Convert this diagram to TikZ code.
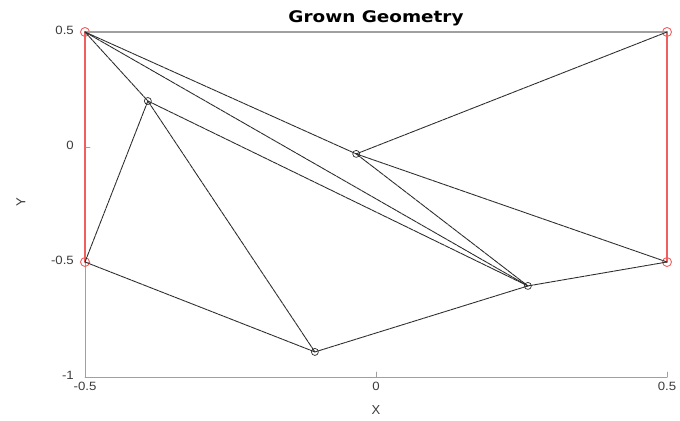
\documentclass[tikz,border=0pt]{standalone}
\usepackage{fontspec}
\setmainfont{Liberation Sans}
\newfontfamily\titlefont{DejaVu Sans}
\definecolor{PlotRed}{RGB}{240,95,95}
\definecolor{PlotGray}{RGB}{160,160,160}
\definecolor{PlotEdge}{RGB}{45,45,45}
\definecolor{PlotText}{RGB}{60,60,60}

\begin{document}
\begin{tikzpicture}[x=1bp,y=1bp,line cap=round,line join=round]
  \path[use as bounding box] (0,0) rectangle (680,420);
  \fill[white] (0,0) rectangle (680,420);

  \tikzset{
    ticklabel/.style={inner sep=0pt,text=PlotText,xscale=1.1,
      font=\fontsize{12bp}{12bp}\selectfont},
    axislabel/.style={inner sep=0pt,text=PlotText,
      font=\fontsize{13bp}{13bp}\selectfont},
    edge/.style={line width=0.9bp,draw=PlotEdge,dash pattern=on 5bp off 0.8bp},
    wall/.style={line width=1.8bp,draw=PlotRed},
    vtx/.style={circle,draw=PlotEdge,line width=0.7bp,inner sep=0pt,
      minimum size=7bp},
    fixedvtx/.style={circle,draw=PlotRed,line width=0.9bp,inner sep=0pt,
      minimum size=9bp},
  }

  % title
  \node[inner sep=0pt,xscale=1.15,font=\titlefont\fontsize{16bp}{16bp}\selectfont\bfseries]
    (title) at (376,402) {Grown Geometry};

  \begin{scope}[shift={(376,273)},x=582bp,y=230bp]
    % axes
    \coordinate (origin) at (-0.5,-1);
    \coordinate (xend) at (0.5,-1);
    \coordinate (ytop) at (-0.5,0.5);
    \draw[line width=0.7bp,PlotGray] (ytop) -- (origin) -- (xend);
    \foreach \x/\lbl in {-0.5/-0.5,0/0,0.5/0.5} {
      \draw[line width=0.7bp,PlotGray] (\x,-1) -- ++(0,5bp);
      \node[ticklabel,anchor=north] (xtick\x) at ([yshift=-5bp]\x,-1) {\lbl};
    }
    \foreach \y/\lbl in {-1/-1,-0.5/-0.5,0/0,0.5/0.5} {
      \draw[line width=0.7bp,PlotGray] (-0.5,\y) -- ++(5bp,0);
      \node[ticklabel,anchor=east] (ytick\y) at ([xshift=-11bp,yshift=2bp]-0.5,\y) {\lbl};
    }
    \node[axislabel] (xlabel) at (0,-1.145) {X};
    \node[axislabel,rotate=90] (ylabel) at (-0.61,-0.24) {Y};

    % vertices
    \node[fixedvtx] (a) at (-0.5,0.5) {};
    \node[fixedvtx] (b) at (0.5,0.5) {};
    \node[fixedvtx] (c) at (-0.5,-0.5) {};
    \node[fixedvtx] (d) at (0.5,-0.5) {};
    \node[vtx] (p1) at (-0.392,0.2) {};
    \node[vtx] (p2) at (-0.034,-0.03) {};
    \node[vtx] (p3) at (0.261,-0.604) {};
    \node[vtx] (p4) at (-0.105,-0.891) {};

    % boundary
    \draw[line width=1.6bp,PlotGray] (a.center) -- (b.center);
    \draw[wall] (a.center) -- (c.center);
    \draw[wall] (b.center) -- (d.center);

    % grown edges
    \foreach \from/\to in {a/p1,a/p2,a/p3,p1/p3,p2/p3,p2/b,p2/d,p3/d,
      p3/p4,p4/c,c/p1,p1/p4}
      \draw[edge] (\from.center) -- (\to.center);
  \end{scope}
\end{tikzpicture}
\end{document}
